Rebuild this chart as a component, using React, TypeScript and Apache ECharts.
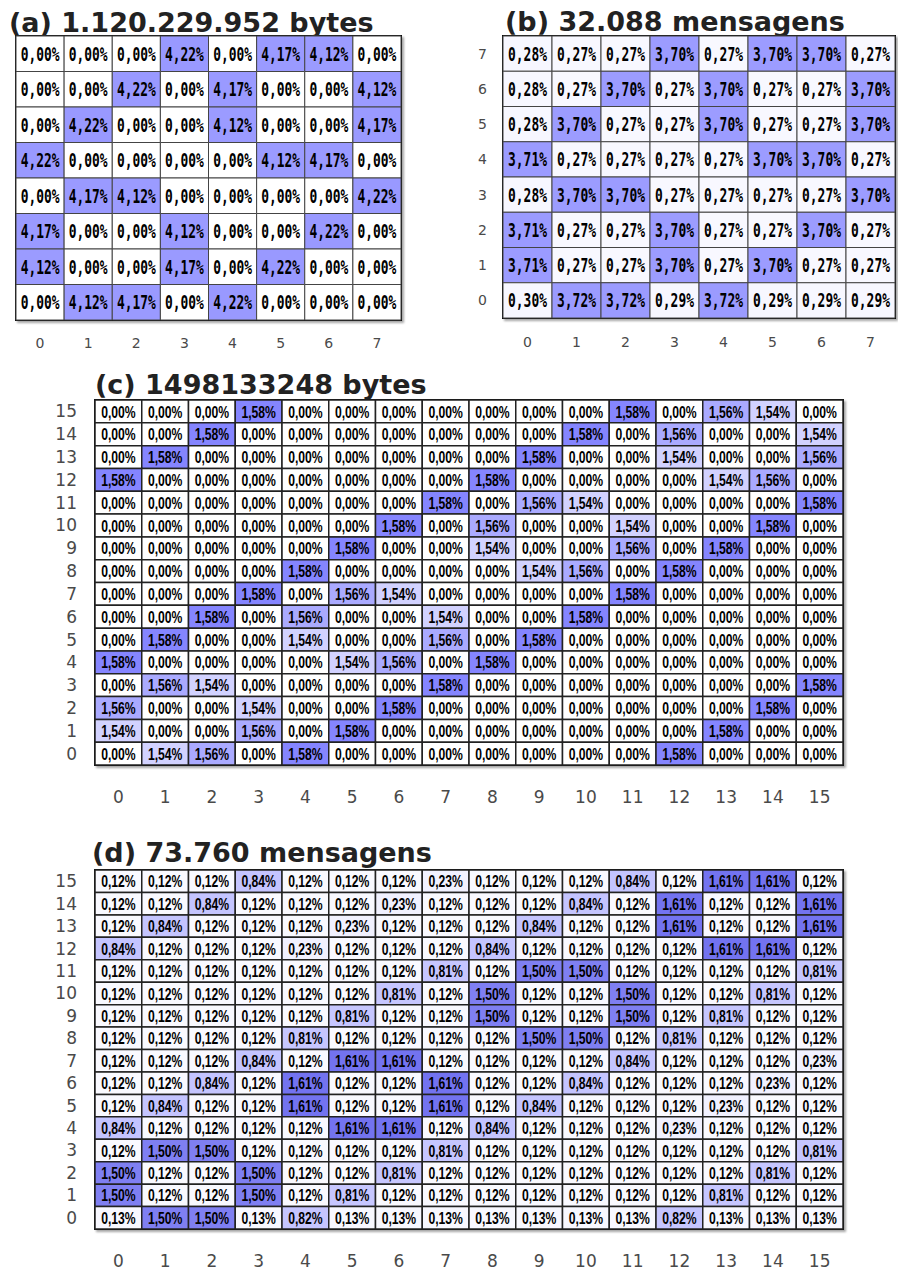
import React, { useEffect, useRef } from "react";
import * as echarts from "echarts";

// ---------- DATA (rows listed from top row to bottom row) ----------
const ticks8 = ["0", "1", "2", "3", "4", "5", "6", "7"];
const ticks16 = ["0", "1", "2", "3", "4", "5", "6", "7", "8", "9", "10", "11", "12", "13", "14", "15"];

const titleA = "(a) 1.120.229.952 bytes";
const titleB = "(b) 32.088 mensagens";
const titleC = "(c) 1498133248 bytes";
const titleD = "(d) 73.760 mensagens";

// (a) rows y=7 .. y=0
const rowsA: number[][] = [
  [0, 0, 0, 4.22, 0, 4.17, 4.12, 0],
  [0, 0, 4.22, 0, 4.17, 0, 0, 4.12],
  [0, 4.22, 0, 0, 4.12, 0, 0, 4.17],
  [4.22, 0, 0, 0, 0, 4.12, 4.17, 0],
  [0, 4.17, 4.12, 0, 0, 0, 0, 4.22],
  [4.17, 0, 0, 4.12, 0, 0, 4.22, 0],
  [4.12, 0, 0, 4.17, 0, 4.22, 0, 0],
  [0, 4.12, 4.17, 0, 4.22, 0, 0, 0],
];

// (b) rows y=7 .. y=0
const rowsB: number[][] = [
  [0.28, 0.27, 0.27, 3.7, 0.27, 3.7, 3.7, 0.27],
  [0.28, 0.27, 3.7, 0.27, 3.7, 0.27, 0.27, 3.7],
  [0.28, 3.7, 0.27, 0.27, 3.7, 0.27, 0.27, 3.7],
  [3.71, 0.27, 0.27, 0.27, 0.27, 3.7, 3.7, 0.27],
  [0.28, 3.7, 3.7, 0.27, 0.27, 0.27, 0.27, 3.7],
  [3.71, 0.27, 0.27, 3.7, 0.27, 0.27, 3.7, 0.27],
  [3.71, 0.27, 0.27, 3.7, 0.27, 3.7, 0.27, 0.27],
  [0.3, 3.72, 3.72, 0.29, 3.72, 0.29, 0.29, 0.29],
];

// (c) rows y=15 .. y=0
const rowsC: number[][] = [
  [0, 0, 0, 1.58, 0, 0, 0, 0, 0, 0, 0, 1.58, 0, 1.56, 1.54, 0],
  [0, 0, 1.58, 0, 0, 0, 0, 0, 0, 0, 1.58, 0, 1.56, 0, 0, 1.54],
  [0, 1.58, 0, 0, 0, 0, 0, 0, 0, 1.58, 0, 0, 1.54, 0, 0, 1.56],
  [1.58, 0, 0, 0, 0, 0, 0, 0, 1.58, 0, 0, 0, 0, 1.54, 1.56, 0],
  [0, 0, 0, 0, 0, 0, 0, 1.58, 0, 1.56, 1.54, 0, 0, 0, 0, 1.58],
  [0, 0, 0, 0, 0, 0, 1.58, 0, 1.56, 0, 0, 1.54, 0, 0, 1.58, 0],
  [0, 0, 0, 0, 0, 1.58, 0, 0, 1.54, 0, 0, 1.56, 0, 1.58, 0, 0],
  [0, 0, 0, 0, 1.58, 0, 0, 0, 0, 1.54, 1.56, 0, 1.58, 0, 0, 0],
  [0, 0, 0, 1.58, 0, 1.56, 1.54, 0, 0, 0, 0, 1.58, 0, 0, 0, 0],
  [0, 0, 1.58, 0, 1.56, 0, 0, 1.54, 0, 0, 1.58, 0, 0, 0, 0, 0],
  [0, 1.58, 0, 0, 1.54, 0, 0, 1.56, 0, 1.58, 0, 0, 0, 0, 0, 0],
  [1.58, 0, 0, 0, 0, 1.54, 1.56, 0, 1.58, 0, 0, 0, 0, 0, 0, 0],
  [0, 1.56, 1.54, 0, 0, 0, 0, 1.58, 0, 0, 0, 0, 0, 0, 0, 1.58],
  [1.56, 0, 0, 1.54, 0, 0, 1.58, 0, 0, 0, 0, 0, 0, 0, 1.58, 0],
  [1.54, 0, 0, 1.56, 0, 1.58, 0, 0, 0, 0, 0, 0, 0, 1.58, 0, 0],
  [0, 1.54, 1.56, 0, 1.58, 0, 0, 0, 0, 0, 0, 0, 1.58, 0, 0, 0],
];

// (d) rows y=15 .. y=0
const rowsD: number[][] = [
  [0.12, 0.12, 0.12, 0.84, 0.12, 0.12, 0.12, 0.23, 0.12, 0.12, 0.12, 0.84, 0.12, 1.61, 1.61, 0.12],
  [0.12, 0.12, 0.84, 0.12, 0.12, 0.12, 0.23, 0.12, 0.12, 0.12, 0.84, 0.12, 1.61, 0.12, 0.12, 1.61],
  [0.12, 0.84, 0.12, 0.12, 0.12, 0.23, 0.12, 0.12, 0.12, 0.84, 0.12, 0.12, 1.61, 0.12, 0.12, 1.61],
  [0.84, 0.12, 0.12, 0.12, 0.23, 0.12, 0.12, 0.12, 0.84, 0.12, 0.12, 0.12, 0.12, 1.61, 1.61, 0.12],
  [0.12, 0.12, 0.12, 0.12, 0.12, 0.12, 0.12, 0.81, 0.12, 1.5, 1.5, 0.12, 0.12, 0.12, 0.12, 0.81],
  [0.12, 0.12, 0.12, 0.12, 0.12, 0.12, 0.81, 0.12, 1.5, 0.12, 0.12, 1.5, 0.12, 0.12, 0.81, 0.12],
  [0.12, 0.12, 0.12, 0.12, 0.12, 0.81, 0.12, 0.12, 1.5, 0.12, 0.12, 1.5, 0.12, 0.81, 0.12, 0.12],
  [0.12, 0.12, 0.12, 0.12, 0.81, 0.12, 0.12, 0.12, 0.12, 1.5, 1.5, 0.12, 0.81, 0.12, 0.12, 0.12],
  [0.12, 0.12, 0.12, 0.84, 0.12, 1.61, 1.61, 0.12, 0.12, 0.12, 0.12, 0.84, 0.12, 0.12, 0.12, 0.23],
  [0.12, 0.12, 0.84, 0.12, 1.61, 0.12, 0.12, 1.61, 0.12, 0.12, 0.84, 0.12, 0.12, 0.12, 0.23, 0.12],
  [0.12, 0.84, 0.12, 0.12, 1.61, 0.12, 0.12, 1.61, 0.12, 0.84, 0.12, 0.12, 0.12, 0.23, 0.12, 0.12],
  [0.84, 0.12, 0.12, 0.12, 0.12, 1.61, 1.61, 0.12, 0.84, 0.12, 0.12, 0.12, 0.23, 0.12, 0.12, 0.12],
  [0.12, 1.5, 1.5, 0.12, 0.12, 0.12, 0.12, 0.81, 0.12, 0.12, 0.12, 0.12, 0.12, 0.12, 0.12, 0.81],
  [1.5, 0.12, 0.12, 1.5, 0.12, 0.12, 0.81, 0.12, 0.12, 0.12, 0.12, 0.12, 0.12, 0.12, 0.81, 0.12],
  [1.5, 0.12, 0.12, 1.5, 0.12, 0.81, 0.12, 0.12, 0.12, 0.12, 0.12, 0.12, 0.12, 0.81, 0.12, 0.12],
  [0.13, 1.5, 1.5, 0.13, 0.82, 0.13, 0.13, 0.13, 0.13, 0.13, 0.13, 0.13, 0.82, 0.13, 0.13, 0.13],
];

// ---------- helpers ----------
const toCells = (rows: number[][]) => {
  const n = rows.length;
  const out: number[][] = [];
  rows.forEach((row, r) => {
    row.forEach((v, c) => out.push([c, n - 1 - r, v]));
  });
  return out;
};

const fmt = (v: number) => v.toFixed(2).replace(".", ",") + "%";

type CellStyle = {
  font: string;
  weight: string;
  size: number;
  scaleX: number;
  stroke: string;
  lineWidth: number;
};

const monoStyle: CellStyle = {
  font: "'DejaVu Sans Mono', monospace",
  weight: "bold",
  size: 19,
  scaleX: 0.68,
  stroke: "#444",
  lineWidth: 1,
};
const narrowStyle: CellStyle = {
  font: "'Liberation Sans', Arial, sans-serif",
  weight: "bold",
  size: 16,
  scaleX: 0.76,
  stroke: "#222",
  lineWidth: 1.5,
};

const makeRender = (cs: CellStyle) => (params: any, api: any) => {
  const x = api.value(0);
  const y = api.value(1);
  const v = api.value(2);
  const p = api.coord([x, y]);
  const s = api.size([1, 1]);
  const w = s[0];
  const h = s[1];
  return {
    type: "group",
    children: [
      {
        type: "rect",
        shape: { x: p[0] - w / 2, y: p[1] - h / 2, width: w, height: h },
        style: { fill: api.visual("color"), stroke: cs.stroke, lineWidth: cs.lineWidth },
      },
      {
        type: "text",
        x: p[0],
        y: p[1] + 0.5,
        scaleX: cs.scaleX,
        style: {
          text: fmt(v),
          fill: "#000",
          fontFamily: cs.font,
          fontWeight: cs.weight,
          fontSize: cs.size,
          align: "center",
          verticalAlign: "middle",
        },
      },
    ],
  };
};

export default function App() {
  const ref = useRef<HTMLDivElement>(null);

  useEffect(() => {
    document.body.style.margin = "0";
    if (!ref.current) return;
    const chart = echarts.init(ref.current, undefined, { renderer: "svg" });

    const gridBase = {
      show: true,
      backgroundColor: "#ffffff",
      borderColor: "#111",
      borderWidth: 2,
      shadowColor: "rgba(0,0,0,0.35)",
      shadowBlur: 2,
      shadowOffsetX: 2,
      shadowOffsetY: 2,
      containLabel: false,
    };

    const grids = [
      { ...gridBase, left: 16, top: 36, width: 385, height: 284 },
      { ...gridBase, left: 503, top: 36, width: 392, height: 282 },
      { ...gridBase, left: 95, top: 400, width: 748, height: 365 },
      { ...gridBase, left: 95, top: 870, width: 748, height: 360 },
    ];

    const labelBase = {
      fontFamily: "'DejaVu Sans', sans-serif",
      color: "#4a4a4a",
    };

    const xAxis = [
      { gridIndex: 0, data: ticks8, size: 14, margin: 16 },
      { gridIndex: 1, data: ticks8, size: 14, margin: 17 },
      { gridIndex: 2, data: ticks16, size: 17, margin: 23 },
      { gridIndex: 3, data: ticks16, size: 17, margin: 23 },
    ].map((a) => ({
      type: "category",
      gridIndex: a.gridIndex,
      data: a.data,
      axisLine: { show: false },
      axisTick: { show: false },
      splitLine: { show: false },
      axisLabel: { ...labelBase, fontSize: a.size, margin: a.margin },
    }));

    const yAxis = [
      { gridIndex: 0, data: ticks8, size: 14, margin: 16, show: false },
      { gridIndex: 1, data: ticks8, size: 14, margin: 16, show: true },
      { gridIndex: 2, data: ticks16, size: 17, margin: 18, show: true },
      { gridIndex: 3, data: ticks16, size: 17, margin: 18, show: true },
    ].map((a) => ({
      type: "category",
      gridIndex: a.gridIndex,
      data: a.data,
      axisLine: { show: false },
      axisTick: { show: false },
      splitLine: { show: false },
      axisLabel: { ...labelBase, show: a.show, fontSize: a.size, margin: a.margin },
    }));

    const series = [
      { data: toCells(rowsA), cs: monoStyle },
      { data: toCells(rowsB), cs: monoStyle },
      { data: toCells(rowsC), cs: narrowStyle },
      { data: toCells(rowsD), cs: narrowStyle },
    ].map((s, i) => ({
      type: "custom",
      xAxisIndex: i,
      yAxisIndex: i,
      dimensions: ["x", "y", "v"],
      encode: { x: 0, y: 1 },
      renderItem: makeRender(s.cs),
      data: s.data,
    }));

    const visualMap = [
      {
        type: "continuous",
        show: false,
        seriesIndex: 0,
        dimension: 2,
        min: 0,
        max: 4.22,
        inRange: { color: ["#ffffff", "#9999ff"] },
      },
      {
        type: "continuous",
        show: false,
        seriesIndex: 1,
        dimension: 2,
        min: 0,
        max: 3.72,
        inRange: { color: ["#ffffff", "#9b9bff"] },
      },
      {
        type: "piecewise",
        show: false,
        seriesIndex: 2,
        dimension: 2,
        pieces: [
          { lt: 0.5, color: "#ffffff" },
          { gte: 0.5, lt: 1.55, color: "#d2d2ff" },
          { gte: 1.55, lt: 1.57, color: "#aaaaff" },
          { gte: 1.57, color: "#8585ff" },
        ],
      },
      {
        type: "continuous",
        show: false,
        seriesIndex: 3,
        dimension: 2,
        min: 0.12,
        max: 1.61,
        inRange: { color: ["#f9f9ff", "#c2c2ff", "#7373f0"] },
      },
    ];

    const titleStyle = {
      fill: "#222",
      fontFamily: "'DejaVu Sans', sans-serif",
      fontWeight: "bold",
      fontSize: 27,
      align: "left",
      verticalAlign: "middle",
    };
    const graphic = [
      { type: "text", x: 9, y: 22, style: { ...titleStyle, text: titleA } },
      { type: "text", x: 505, y: 21, style: { ...titleStyle, text: titleB } },
      { type: "text", x: 95, y: 384, style: { ...titleStyle, text: titleC } },
      { type: "text", x: 92, y: 852, style: { ...titleStyle, text: titleD } },
    ];

    chart.setOption({
      animation: false,
      backgroundColor: "#ffffff",
      grid: grids,
      xAxis,
      yAxis,
      visualMap,
      series,
      graphic,
    } as any);

    return () => chart.dispose();
  }, []);

  return <div ref={ref} style={{ width: 898, height: 1269 }} />;
}
